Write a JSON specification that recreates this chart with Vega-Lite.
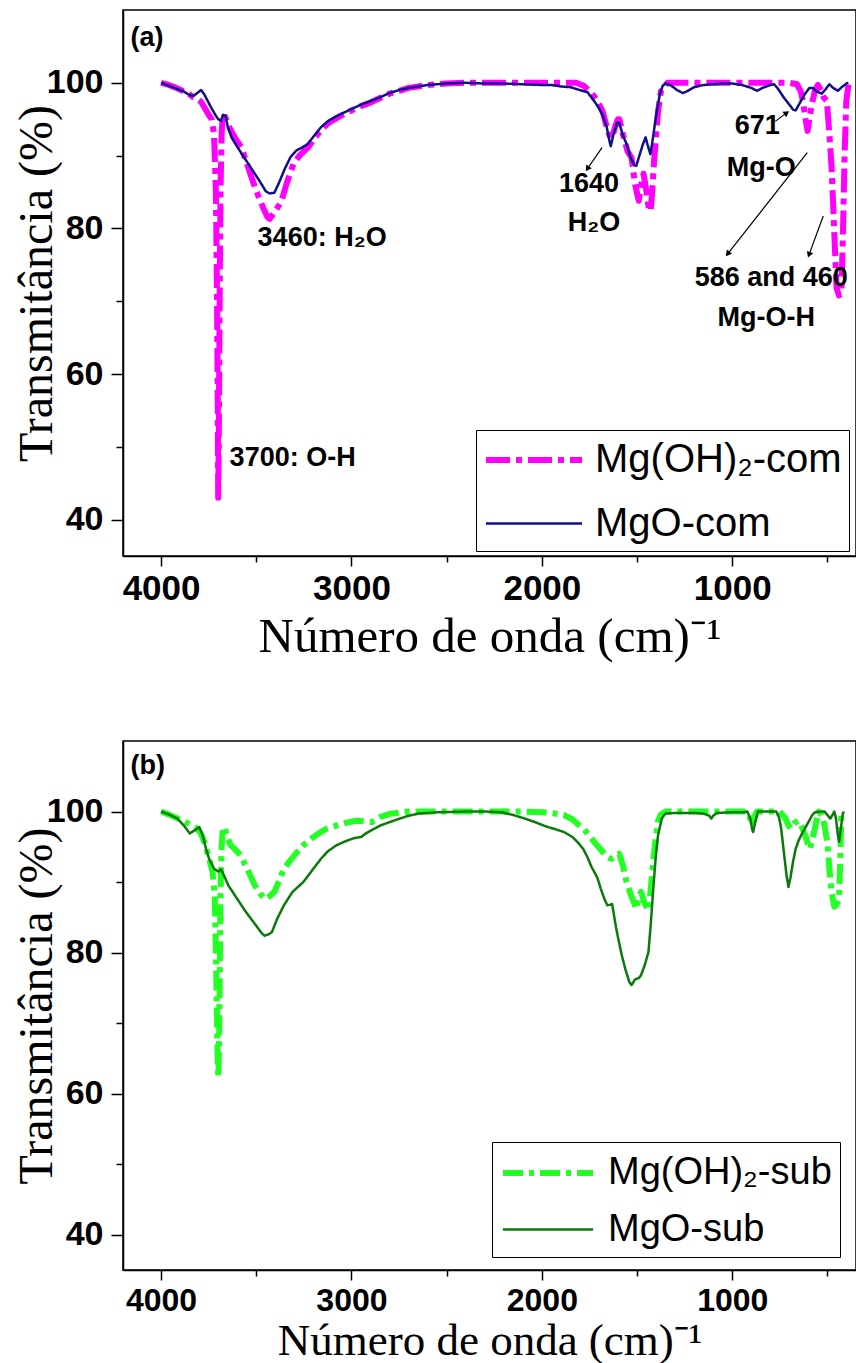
{
  "$schema": "https://vega.github.io/schema/vega-lite/v6.json",
  "autosize": {"type": "pad"},
  "padding": {"left": 12, "top": 9, "right": 1, "bottom": 0},
  "spacing": 78,
  "background": "#ffffff",
  "config": {
    "view": {"stroke": "#000000", "strokeWidth": 1.5},
    "axis": {"domainColor": "#000000", "domainWidth": 1.5, "tickColor": "#000000", "tickWidth": 1.5, "grid": false, "labelFont": "Liberation Sans", "labelFontWeight": "bold", "labelColor": "#000000", "titleFont": "Liberation Serif", "titleFontWeight": "normal", "titleColor": "#000000", "labelOverlap": false, "labelFlush": false},
    "legend": {"orient": "none", "title": null, "strokeColor": "#000000", "fillColor": "#ffffff", "labelFont": "Liberation Sans", "labelColor": "#000000", "labelLimit": 500}
  },
  "datasets": {
    "specA": [
      {"s":"Mg(OH)₂-com","w":4000,"t":100},{"s":"Mg(OH)₂-com","w":3960,"t":99.7},{"s":"Mg(OH)₂-com","w":3920,"t":99.3},{"s":"Mg(OH)₂-com","w":3880,"t":98.8},{"s":"Mg(OH)₂-com","w":3850,"t":98.4},{"s":"Mg(OH)₂-com","w":3830,"t":98.0},{"s":"Mg(OH)₂-com","w":3810,"t":97.8},{"s":"Mg(OH)₂-com","w":3790,"t":97.4},{"s":"Mg(OH)₂-com","w":3770,"t":96.5},{"s":"Mg(OH)₂-com","w":3750,"t":95.6},{"s":"Mg(OH)₂-com","w":3735,"t":95.0},{"s":"Mg(OH)₂-com","w":3722,"t":93.0},{"s":"Mg(OH)₂-com","w":3712,"t":85},{"s":"Mg(OH)₂-com","w":3706,"t":70},{"s":"Mg(OH)₂-com","w":3702,"t":55},{"s":"Mg(OH)₂-com","w":3700,"t":43.0},{"s":"Mg(OH)₂-com","w":3697,"t":50},{"s":"Mg(OH)₂-com","w":3693,"t":68},{"s":"Mg(OH)₂-com","w":3688,"t":85},{"s":"Mg(OH)₂-com","w":3682,"t":93},{"s":"Mg(OH)₂-com","w":3676,"t":95.5},{"s":"Mg(OH)₂-com","w":3668,"t":95.6},{"s":"Mg(OH)₂-com","w":3655,"t":94.8},{"s":"Mg(OH)₂-com","w":3640,"t":93.8},{"s":"Mg(OH)₂-com","w":3620,"t":92.8},{"s":"Mg(OH)₂-com","w":3600,"t":92.0},{"s":"Mg(OH)₂-com","w":3580,"t":91.2},{"s":"Mg(OH)₂-com","w":3550,"t":89.0},{"s":"Mg(OH)₂-com","w":3520,"t":86.6},{"s":"Mg(OH)₂-com","w":3490,"t":84.5},{"s":"Mg(OH)₂-com","w":3460,"t":82.6},{"s":"Mg(OH)₂-com","w":3440,"t":81.5},{"s":"Mg(OH)₂-com","w":3430,"t":81.3},{"s":"Mg(OH)₂-com","w":3410,"t":82.0},{"s":"Mg(OH)₂-com","w":3390,"t":82.8},{"s":"Mg(OH)₂-com","w":3367,"t":83.8},{"s":"Mg(OH)₂-com","w":3340,"t":86.2},{"s":"Mg(OH)₂-com","w":3304,"t":88.9},{"s":"Mg(OH)₂-com","w":3270,"t":90.1},{"s":"Mg(OH)₂-com","w":3228,"t":91.1},{"s":"Mg(OH)₂-com","w":3200,"t":92.2},{"s":"Mg(OH)₂-com","w":3160,"t":93.5},{"s":"Mg(OH)₂-com","w":3120,"t":94.5},{"s":"Mg(OH)₂-com","w":3080,"t":95.1},{"s":"Mg(OH)₂-com","w":3040,"t":95.7},{"s":"Mg(OH)₂-com","w":3000,"t":96.2},{"s":"Mg(OH)₂-com","w":2950,"t":96.8},{"s":"Mg(OH)₂-com","w":2900,"t":97.3},{"s":"Mg(OH)₂-com","w":2850,"t":97.9},{"s":"Mg(OH)₂-com","w":2800,"t":98.5},{"s":"Mg(OH)₂-com","w":2750,"t":98.9},{"s":"Mg(OH)₂-com","w":2700,"t":99.3},{"s":"Mg(OH)₂-com","w":2650,"t":99.5},{"s":"Mg(OH)₂-com","w":2600,"t":99.7},{"s":"Mg(OH)₂-com","w":2500,"t":99.9},{"s":"Mg(OH)₂-com","w":2400,"t":100},{"s":"Mg(OH)₂-com","w":2200,"t":100},{"s":"Mg(OH)₂-com","w":2000,"t":100},{"s":"Mg(OH)₂-com","w":1900,"t":100},{"s":"Mg(OH)₂-com","w":1820,"t":100},{"s":"Mg(OH)₂-com","w":1780,"t":99.6},{"s":"Mg(OH)₂-com","w":1740,"t":98.6},{"s":"Mg(OH)₂-com","w":1707,"t":97.5},{"s":"Mg(OH)₂-com","w":1680,"t":96.0},{"s":"Mg(OH)₂-com","w":1660,"t":94.0},{"s":"Mg(OH)₂-com","w":1645,"t":92.8},{"s":"Mg(OH)₂-com","w":1631,"t":92.4},{"s":"Mg(OH)₂-com","w":1615,"t":94.0},{"s":"Mg(OH)₂-com","w":1600,"t":95.0},{"s":"Mg(OH)₂-com","w":1593,"t":95.0},{"s":"Mg(OH)₂-com","w":1575,"t":93.0},{"s":"Mg(OH)₂-com","w":1550,"t":90.6},{"s":"Mg(OH)₂-com","w":1529,"t":89.7},{"s":"Mg(OH)₂-com","w":1510,"t":86.0},{"s":"Mg(OH)₂-com","w":1491,"t":83.8},{"s":"Mg(OH)₂-com","w":1478,"t":86.0},{"s":"Mg(OH)₂-com","w":1466,"t":87.5},{"s":"Mg(OH)₂-com","w":1450,"t":85.0},{"s":"Mg(OH)₂-com","w":1440,"t":83.0},{"s":"Mg(OH)₂-com","w":1428,"t":82.4},{"s":"Mg(OH)₂-com","w":1418,"t":86.0},{"s":"Mg(OH)₂-com","w":1410,"t":89.5},{"s":"Mg(OH)₂-com","w":1402,"t":92.0},{"s":"Mg(OH)₂-com","w":1390,"t":96.0},{"s":"Mg(OH)₂-com","w":1375,"t":98.8},{"s":"Mg(OH)₂-com","w":1364,"t":99.3},{"s":"Mg(OH)₂-com","w":1340,"t":100},{"s":"Mg(OH)₂-com","w":1200,"t":100},{"s":"Mg(OH)₂-com","w":1000,"t":100},{"s":"Mg(OH)₂-com","w":800,"t":100},{"s":"Mg(OH)₂-com","w":700,"t":100},{"s":"Mg(OH)₂-com","w":660,"t":99.8},{"s":"Mg(OH)₂-com","w":640,"t":98.8},{"s":"Mg(OH)₂-com","w":629,"t":97.5},{"s":"Mg(OH)₂-com","w":615,"t":95.0},{"s":"Mg(OH)₂-com","w":604,"t":93.4},{"s":"Mg(OH)₂-com","w":592,"t":95.5},{"s":"Mg(OH)₂-com","w":578,"t":97.5},{"s":"Mg(OH)₂-com","w":565,"t":99.0},{"s":"Mg(OH)₂-com","w":550,"t":99.7},{"s":"Mg(OH)₂-com","w":535,"t":99.0},{"s":"Mg(OH)₂-com","w":520,"t":98.0},{"s":"Mg(OH)₂-com","w":503,"t":97.5},{"s":"Mg(OH)₂-com","w":490,"t":93.0},{"s":"Mg(OH)₂-com","w":478,"t":88.3},{"s":"Mg(OH)₂-com","w":465,"t":80.0},{"s":"Mg(OH)₂-com","w":452,"t":71.8},{"s":"Mg(OH)₂-com","w":440,"t":70.8},{"s":"Mg(OH)₂-com","w":427,"t":71.0},{"s":"Mg(OH)₂-com","w":418,"t":80.0},{"s":"Mg(OH)₂-com","w":410,"t":90.0},{"s":"Mg(OH)₂-com","w":401,"t":97.5},{"s":"Mg(OH)₂-com","w":388,"t":100},
      {"s":"MgO-com","w":4000,"t":100},{"s":"MgO-com","w":3960,"t":99.6},{"s":"MgO-com","w":3920,"t":99.2},{"s":"MgO-com","w":3880,"t":98.8},{"s":"MgO-com","w":3850,"t":98.3},{"s":"MgO-com","w":3830,"t":98.2},{"s":"MgO-com","w":3810,"t":98.6},{"s":"MgO-com","w":3790,"t":99.0},{"s":"MgO-com","w":3775,"t":98.5},{"s":"MgO-com","w":3755,"t":97.5},{"s":"MgO-com","w":3735,"t":96.5},{"s":"MgO-com","w":3715,"t":95.6},{"s":"MgO-com","w":3700,"t":95.0},{"s":"MgO-com","w":3685,"t":94.8},{"s":"MgO-com","w":3675,"t":95.6},{"s":"MgO-com","w":3662,"t":95.5},{"s":"MgO-com","w":3650,"t":94.0},{"s":"MgO-com","w":3630,"t":92.5},{"s":"MgO-com","w":3600,"t":91.2},{"s":"MgO-com","w":3560,"t":89.6},{"s":"MgO-com","w":3520,"t":88.0},{"s":"MgO-com","w":3480,"t":86.4},{"s":"MgO-com","w":3450,"t":85.1},{"s":"MgO-com","w":3430,"t":84.8},{"s":"MgO-com","w":3405,"t":84.9},{"s":"MgO-com","w":3380,"t":86.3},{"s":"MgO-com","w":3350,"t":88.2},{"s":"MgO-com","w":3320,"t":89.8},{"s":"MgO-com","w":3290,"t":90.7},{"s":"MgO-com","w":3260,"t":91.1},{"s":"MgO-com","w":3230,"t":91.6},{"s":"MgO-com","w":3200,"t":92.6},{"s":"MgO-com","w":3160,"t":93.9},{"s":"MgO-com","w":3120,"t":94.8},{"s":"MgO-com","w":3080,"t":95.4},{"s":"MgO-com","w":3040,"t":95.9},{"s":"MgO-com","w":3000,"t":96.4},{"s":"MgO-com","w":2950,"t":97.0},{"s":"MgO-com","w":2900,"t":97.5},{"s":"MgO-com","w":2850,"t":98.0},{"s":"MgO-com","w":2800,"t":98.6},{"s":"MgO-com","w":2750,"t":99.0},{"s":"MgO-com","w":2700,"t":99.3},{"s":"MgO-com","w":2650,"t":99.5},{"s":"MgO-com","w":2600,"t":99.7},{"s":"MgO-com","w":2500,"t":99.9},{"s":"MgO-com","w":2400,"t":100},{"s":"MgO-com","w":2300,"t":99.9},{"s":"MgO-com","w":2200,"t":99.9},{"s":"MgO-com","w":2100,"t":99.8},{"s":"MgO-com","w":2000,"t":99.7},{"s":"MgO-com","w":1950,"t":99.7},{"s":"MgO-com","w":1900,"t":99.5},{"s":"MgO-com","w":1850,"t":99.4},{"s":"MgO-com","w":1800,"t":99.0},{"s":"MgO-com","w":1760,"t":98.7},{"s":"MgO-com","w":1740,"t":98.0},{"s":"MgO-com","w":1720,"t":97.3},{"s":"MgO-com","w":1700,"t":96.5},{"s":"MgO-com","w":1680,"t":95.5},{"s":"MgO-com","w":1660,"t":94.0},{"s":"MgO-com","w":1645,"t":92.0},{"s":"MgO-com","w":1638,"t":91.3},{"s":"MgO-com","w":1625,"t":92.8},{"s":"MgO-com","w":1605,"t":94.5},{"s":"MgO-com","w":1593,"t":94.5},{"s":"MgO-com","w":1575,"t":92.8},{"s":"MgO-com","w":1555,"t":91.6},{"s":"MgO-com","w":1535,"t":89.8},{"s":"MgO-com","w":1515,"t":88.7},{"s":"MgO-com","w":1504,"t":88.6},{"s":"MgO-com","w":1490,"t":89.8},{"s":"MgO-com","w":1470,"t":91.5},{"s":"MgO-com","w":1455,"t":92.5},{"s":"MgO-com","w":1445,"t":91.5},{"s":"MgO-com","w":1430,"t":90.2},{"s":"MgO-com","w":1420,"t":91.8},{"s":"MgO-com","w":1400,"t":95.5},{"s":"MgO-com","w":1380,"t":98.5},{"s":"MgO-com","w":1365,"t":99.6},{"s":"MgO-com","w":1350,"t":99.9},{"s":"MgO-com","w":1320,"t":99.6},{"s":"MgO-com","w":1290,"t":99.0},{"s":"MgO-com","w":1260,"t":98.6},{"s":"MgO-com","w":1240,"t":98.8},{"s":"MgO-com","w":1200,"t":99.4},{"s":"MgO-com","w":1150,"t":99.7},{"s":"MgO-com","w":1100,"t":99.8},{"s":"MgO-com","w":1050,"t":99.9},{"s":"MgO-com","w":1000,"t":99.9},{"s":"MgO-com","w":950,"t":99.7},{"s":"MgO-com","w":900,"t":99.3},{"s":"MgO-com","w":870,"t":98.9},{"s":"MgO-com","w":840,"t":99.3},{"s":"MgO-com","w":800,"t":99.7},{"s":"MgO-com","w":780,"t":99.8},{"s":"MgO-com","w":760,"t":99.2},{"s":"MgO-com","w":730,"t":98.0},{"s":"MgO-com","w":700,"t":97.0},{"s":"MgO-com","w":680,"t":96.3},{"s":"MgO-com","w":667,"t":96.2},{"s":"MgO-com","w":650,"t":97.0},{"s":"MgO-com","w":620,"t":98.4},{"s":"MgO-com","w":595,"t":99.3},{"s":"MgO-com","w":578,"t":99.3},{"s":"MgO-com","w":555,"t":98.8},{"s":"MgO-com","w":530,"t":98.5},{"s":"MgO-com","w":510,"t":99.1},{"s":"MgO-com","w":490,"t":99.8},{"s":"MgO-com","w":470,"t":99.3},{"s":"MgO-com","w":445,"t":98.9},{"s":"MgO-com","w":425,"t":99.4},{"s":"MgO-com","w":400,"t":99.9},{"s":"MgO-com","w":390,"t":100}
    ],
    "specB": [
      {"s":"Mg(OH)₂-sub","w":4000,"t":100},{"s":"Mg(OH)₂-sub","w":3960,"t":99.6},{"s":"Mg(OH)₂-sub","w":3920,"t":99.1},{"s":"Mg(OH)₂-sub","w":3880,"t":98.6},{"s":"Mg(OH)₂-sub","w":3850,"t":98.2},{"s":"Mg(OH)₂-sub","w":3810,"t":97.6},{"s":"Mg(OH)₂-sub","w":3790,"t":96.8},{"s":"Mg(OH)₂-sub","w":3770,"t":95.5},{"s":"Mg(OH)₂-sub","w":3748,"t":93.3},{"s":"Mg(OH)₂-sub","w":3730,"t":91.5},{"s":"Mg(OH)₂-sub","w":3718,"t":88},{"s":"Mg(OH)₂-sub","w":3712,"t":80},{"s":"Mg(OH)₂-sub","w":3706,"t":70},{"s":"Mg(OH)₂-sub","w":3702,"t":64},{"s":"Mg(OH)₂-sub","w":3699,"t":62.4},{"s":"Mg(OH)₂-sub","w":3696,"t":66},{"s":"Mg(OH)₂-sub","w":3692,"t":76},{"s":"Mg(OH)₂-sub","w":3688,"t":88},{"s":"Mg(OH)₂-sub","w":3682,"t":95},{"s":"Mg(OH)₂-sub","w":3675,"t":97.8},{"s":"Mg(OH)₂-sub","w":3665,"t":97.6},{"s":"Mg(OH)₂-sub","w":3650,"t":96.2},{"s":"Mg(OH)₂-sub","w":3634,"t":95.2},{"s":"Mg(OH)₂-sub","w":3610,"t":94.6},{"s":"Mg(OH)₂-sub","w":3583,"t":93.8},{"s":"Mg(OH)₂-sub","w":3550,"t":92.0},{"s":"Mg(OH)₂-sub","w":3507,"t":89.5},{"s":"Mg(OH)₂-sub","w":3480,"t":88.4},{"s":"Mg(OH)₂-sub","w":3456,"t":87.6},{"s":"Mg(OH)₂-sub","w":3430,"t":88.0},{"s":"Mg(OH)₂-sub","w":3405,"t":88.6},{"s":"Mg(OH)₂-sub","w":3380,"t":90.2},{"s":"Mg(OH)₂-sub","w":3355,"t":91.9},{"s":"Mg(OH)₂-sub","w":3300,"t":93.8},{"s":"Mg(OH)₂-sub","w":3253,"t":95.2},{"s":"Mg(OH)₂-sub","w":3200,"t":96.4},{"s":"Mg(OH)₂-sub","w":3160,"t":97.1},{"s":"Mg(OH)₂-sub","w":3127,"t":97.6},{"s":"Mg(OH)₂-sub","w":3080,"t":98.0},{"s":"Mg(OH)₂-sub","w":3030,"t":98.4},{"s":"Mg(OH)₂-sub","w":2975,"t":98.7},{"s":"Mg(OH)₂-sub","w":2930,"t":98.6},{"s":"Mg(OH)₂-sub","w":2893,"t":98.5},{"s":"Mg(OH)₂-sub","w":2850,"t":99.2},{"s":"Mg(OH)₂-sub","w":2795,"t":99.7},{"s":"Mg(OH)₂-sub","w":2700,"t":100},{"s":"Mg(OH)₂-sub","w":2500,"t":100},{"s":"Mg(OH)₂-sub","w":2300,"t":100},{"s":"Mg(OH)₂-sub","w":2100,"t":100},{"s":"Mg(OH)₂-sub","w":2000,"t":99.9},{"s":"Mg(OH)₂-sub","w":1950,"t":99.8},{"s":"Mg(OH)₂-sub","w":1884,"t":99.5},{"s":"Mg(OH)₂-sub","w":1840,"t":98.9},{"s":"Mg(OH)₂-sub","w":1810,"t":98.2},{"s":"Mg(OH)₂-sub","w":1783,"t":97.6},{"s":"Mg(OH)₂-sub","w":1750,"t":96.6},{"s":"Mg(OH)₂-sub","w":1720,"t":95.5},{"s":"Mg(OH)₂-sub","w":1700,"t":94.9},{"s":"Mg(OH)₂-sub","w":1681,"t":94.3},{"s":"Mg(OH)₂-sub","w":1660,"t":93.6},{"s":"Mg(OH)₂-sub","w":1645,"t":93.4},{"s":"Mg(OH)₂-sub","w":1631,"t":93.3},{"s":"Mg(OH)₂-sub","w":1610,"t":93.8},{"s":"Mg(OH)₂-sub","w":1593,"t":94.0},{"s":"Mg(OH)₂-sub","w":1575,"t":92.4},{"s":"Mg(OH)₂-sub","w":1555,"t":90.0},{"s":"Mg(OH)₂-sub","w":1530,"t":88.0},{"s":"Mg(OH)₂-sub","w":1515,"t":87.0},{"s":"Mg(OH)₂-sub","w":1504,"t":86.2},{"s":"Mg(OH)₂-sub","w":1490,"t":87.8},{"s":"Mg(OH)₂-sub","w":1479,"t":88.6},{"s":"Mg(OH)₂-sub","w":1460,"t":87.0},{"s":"Mg(OH)₂-sub","w":1440,"t":86.0},{"s":"Mg(OH)₂-sub","w":1428,"t":89.0},{"s":"Mg(OH)₂-sub","w":1415,"t":93.0},{"s":"Mg(OH)₂-sub","w":1402,"t":96.2},{"s":"Mg(OH)₂-sub","w":1390,"t":98.6},{"s":"Mg(OH)₂-sub","w":1377,"t":99.5},{"s":"Mg(OH)₂-sub","w":1350,"t":100},{"s":"Mg(OH)₂-sub","w":1200,"t":100},{"s":"Mg(OH)₂-sub","w":1000,"t":100},{"s":"Mg(OH)₂-sub","w":930,"t":100},{"s":"Mg(OH)₂-sub","w":910,"t":99.4},{"s":"Mg(OH)₂-sub","w":896,"t":98.0},{"s":"Mg(OH)₂-sub","w":885,"t":99.2},{"s":"Mg(OH)₂-sub","w":870,"t":100},{"s":"Mg(OH)₂-sub","w":800,"t":100},{"s":"Mg(OH)₂-sub","w":750,"t":100},{"s":"Mg(OH)₂-sub","w":720,"t":99.0},{"s":"Mg(OH)₂-sub","w":705,"t":98.0},{"s":"Mg(OH)₂-sub","w":693,"t":97.6},{"s":"Mg(OH)₂-sub","w":675,"t":98.3},{"s":"Mg(OH)₂-sub","w":655,"t":98.7},{"s":"Mg(OH)₂-sub","w":640,"t":98.2},{"s":"Mg(OH)₂-sub","w":628,"t":97.4},{"s":"Mg(OH)₂-sub","w":616,"t":96.6},{"s":"Mg(OH)₂-sub","w":604,"t":95.5},{"s":"Mg(OH)₂-sub","w":592,"t":94.7},{"s":"Mg(OH)₂-sub","w":580,"t":96.0},{"s":"Mg(OH)₂-sub","w":566,"t":97.6},{"s":"Mg(OH)₂-sub","w":555,"t":99.0},{"s":"Mg(OH)₂-sub","w":545,"t":100},{"s":"Mg(OH)₂-sub","w":530,"t":99.5},{"s":"Mg(OH)₂-sub","w":515,"t":98.0},{"s":"Mg(OH)₂-sub","w":500,"t":95.5},{"s":"Mg(OH)₂-sub","w":490,"t":91.9},{"s":"Mg(OH)₂-sub","w":478,"t":88.5},{"s":"Mg(OH)₂-sub","w":464,"t":86.5},{"s":"Mg(OH)₂-sub","w":452,"t":86.8},{"s":"Mg(OH)₂-sub","w":439,"t":87.6},{"s":"Mg(OH)₂-sub","w":432,"t":94.0},{"s":"Mg(OH)₂-sub","w":427,"t":100},
      {"s":"MgO-sub","w":4000,"t":100},{"s":"MgO-sub","w":3960,"t":99.6},{"s":"MgO-sub","w":3913,"t":99.0},{"s":"MgO-sub","w":3880,"t":98.0},{"s":"MgO-sub","w":3849,"t":96.9},{"s":"MgO-sub","w":3820,"t":97.4},{"s":"MgO-sub","w":3799,"t":97.8},{"s":"MgO-sub","w":3780,"t":96.5},{"s":"MgO-sub","w":3765,"t":94.8},{"s":"MgO-sub","w":3748,"t":93.3},{"s":"MgO-sub","w":3722,"t":91.9},{"s":"MgO-sub","w":3700,"t":91.5},{"s":"MgO-sub","w":3685,"t":91.8},{"s":"MgO-sub","w":3671,"t":91.0},{"s":"MgO-sub","w":3646,"t":89.5},{"s":"MgO-sub","w":3600,"t":87.6},{"s":"MgO-sub","w":3550,"t":85.6},{"s":"MgO-sub","w":3500,"t":83.8},{"s":"MgO-sub","w":3470,"t":82.7},{"s":"MgO-sub","w":3456,"t":82.4},{"s":"MgO-sub","w":3435,"t":82.6},{"s":"MgO-sub","w":3418,"t":82.9},{"s":"MgO-sub","w":3390,"t":84.8},{"s":"MgO-sub","w":3355,"t":86.7},{"s":"MgO-sub","w":3310,"t":88.6},{"s":"MgO-sub","w":3253,"t":90.0},{"s":"MgO-sub","w":3200,"t":91.9},{"s":"MgO-sub","w":3160,"t":93.3},{"s":"MgO-sub","w":3127,"t":94.3},{"s":"MgO-sub","w":3080,"t":95.2},{"s":"MgO-sub","w":3030,"t":95.8},{"s":"MgO-sub","w":2990,"t":96.2},{"s":"MgO-sub","w":2949,"t":96.4},{"s":"MgO-sub","w":2930,"t":96.8},{"s":"MgO-sub","w":2898,"t":97.3},{"s":"MgO-sub","w":2850,"t":98.0},{"s":"MgO-sub","w":2800,"t":98.5},{"s":"MgO-sub","w":2746,"t":99.0},{"s":"MgO-sub","w":2700,"t":99.4},{"s":"MgO-sub","w":2650,"t":99.7},{"s":"MgO-sub","w":2600,"t":99.8},{"s":"MgO-sub","w":2543,"t":99.9},{"s":"MgO-sub","w":2400,"t":100},{"s":"MgO-sub","w":2300,"t":100},{"s":"MgO-sub","w":2214,"t":99.9},{"s":"MgO-sub","w":2150,"t":99.5},{"s":"MgO-sub","w":2100,"t":99.1},{"s":"MgO-sub","w":2036,"t":98.5},{"s":"MgO-sub","w":1980,"t":97.9},{"s":"MgO-sub","w":1930,"t":97.5},{"s":"MgO-sub","w":1884,"t":97.1},{"s":"MgO-sub","w":1840,"t":96.4},{"s":"MgO-sub","w":1810,"t":95.6},{"s":"MgO-sub","w":1783,"t":94.7},{"s":"MgO-sub","w":1760,"t":93.5},{"s":"MgO-sub","w":1740,"t":92.2},{"s":"MgO-sub","w":1720,"t":91.2},{"s":"MgO-sub","w":1707,"t":90.5},{"s":"MgO-sub","w":1690,"t":89.0},{"s":"MgO-sub","w":1670,"t":87.5},{"s":"MgO-sub","w":1656,"t":86.7},{"s":"MgO-sub","w":1640,"t":86.8},{"s":"MgO-sub","w":1631,"t":86.9},{"s":"MgO-sub","w":1610,"t":83.5},{"s":"MgO-sub","w":1595,"t":81.5},{"s":"MgO-sub","w":1580,"t":79.6},{"s":"MgO-sub","w":1560,"t":77.5},{"s":"MgO-sub","w":1540,"t":75.8},{"s":"MgO-sub","w":1529,"t":75.4},{"s":"MgO-sub","w":1510,"t":76.2},{"s":"MgO-sub","w":1490,"t":76.4},{"s":"MgO-sub","w":1479,"t":76.8},{"s":"MgO-sub","w":1460,"t":78.2},{"s":"MgO-sub","w":1440,"t":80.1},{"s":"MgO-sub","w":1428,"t":84.0},{"s":"MgO-sub","w":1415,"t":89.0},{"s":"MgO-sub","w":1402,"t":93.5},{"s":"MgO-sub","w":1390,"t":96.6},{"s":"MgO-sub","w":1370,"t":99.0},{"s":"MgO-sub","w":1352,"t":99.7},{"s":"MgO-sub","w":1300,"t":99.8},{"s":"MgO-sub","w":1200,"t":99.8},{"s":"MgO-sub","w":1150,"t":99.7},{"s":"MgO-sub","w":1120,"t":99.4},{"s":"MgO-sub","w":1110,"t":99.0},{"s":"MgO-sub","w":1100,"t":99.4},{"s":"MgO-sub","w":1080,"t":99.8},{"s":"MgO-sub","w":1000,"t":99.9},{"s":"MgO-sub","w":940,"t":99.9},{"s":"MgO-sub","w":921,"t":100},{"s":"MgO-sub","w":905,"t":99.0},{"s":"MgO-sub","w":895,"t":97.4},{"s":"MgO-sub","w":890,"t":97.1},{"s":"MgO-sub","w":880,"t":98.4},{"s":"MgO-sub","w":865,"t":100},{"s":"MgO-sub","w":800,"t":100},{"s":"MgO-sub","w":769,"t":100},{"s":"MgO-sub","w":755,"t":99.2},{"s":"MgO-sub","w":744,"t":97.8},{"s":"MgO-sub","w":730,"t":94.5},{"s":"MgO-sub","w":715,"t":91.0},{"s":"MgO-sub","w":705,"t":89.3},{"s":"MgO-sub","w":695,"t":90.5},{"s":"MgO-sub","w":680,"t":93.0},{"s":"MgO-sub","w":667,"t":94.7},{"s":"MgO-sub","w":650,"t":96.0},{"s":"MgO-sub","w":629,"t":97.1},{"s":"MgO-sub","w":600,"t":98.5},{"s":"MgO-sub","w":580,"t":99.5},{"s":"MgO-sub","w":566,"t":99.9},{"s":"MgO-sub","w":530,"t":100},{"s":"MgO-sub","w":515,"t":100},{"s":"MgO-sub","w":500,"t":99.5},{"s":"MgO-sub","w":485,"t":99.0},{"s":"MgO-sub","w":472,"t":99.6},{"s":"MgO-sub","w":464,"t":100},{"s":"MgO-sub","w":455,"t":99.0},{"s":"MgO-sub","w":447,"t":97.0},{"s":"MgO-sub","w":439,"t":95.7},{"s":"MgO-sub","w":430,"t":97.5},{"s":"MgO-sub","w":420,"t":99.6},{"s":"MgO-sub","w":414,"t":100}
    ],
    "labA_left": [
      {"label":"(a)","w":4160,"t":106.2},
      {"label":"3460: H₂O","w":3493,"t":78.7},
      {"label":"3700: O-H","w":3640,"t":48.5}
    ],
    "labA_center": [
      {"label":"1640","w":1752,"t":86.1},
      {"label":"H₂O","w":1726,"t":80.8},
      {"label":"671","w":869,"t":94.0},
      {"label":"Mg-O","w":848,"t":88.3},
      {"label":"586 and 460","w":795,"t":73.2},
      {"label":"Mg-O-H","w":821,"t":67.7}
    ],
    "arrA": [
      {"w":1684,"t":91.1,"w2":1758,"t2":88.3,"dir":215},
      {"w":774,"t":94.7,"w2":718,"t2":95.8,"dir":56},
      {"w":606,"t":90.4,"w2":1021,"t2":76.6,"dir":218},
      {"w":522,"t":81.7,"w2":595,"t2":76.5,"dir":200}
    ],
    "labB_left": [
      {"label":"(b)","w":4160,"t":106.5}
    ]
  },
  "resolve": {"scale": {"color": "independent", "strokeDash": "independent", "strokeWidth": "independent"}, "legend": {"color": "independent", "strokeDash": "independent", "strokeWidth": "independent"}},
  "vconcat": [
    {
      "width": 733,
      "height": 546,
      "layer": [
        {
          "data": {"name": "specA"},
          "mark": {"type": "line", "clip": true, "strokeJoin": "round"},
          "encoding": {
            "x": {"field": "w", "type": "quantitative", "title": "Número de onda (cm)⁻¹",
              "scale": {"domain": [350, 4200], "reverse": true, "nice": false, "zero": false},
              "axis": {"values": [4000, 3500, 3000, 2500, 2000, 1500, 1000, 500], "format": "d", "labelExpr": "datum.value % 1000 === 0 ? datum.label : ''", "tickSize": {"condition": {"test": "datum.value % 1000 === 0", "value": 10}, "value": 6}, "labelFontSize": 35, "labelPadding": 5, "titleFontSize": 49, "titlePadding": 6}},
            "y": {"field": "t", "type": "quantitative", "title": "Transmitância (%)",
              "scale": {"domain": [35, 110], "nice": false, "zero": false},
              "axis": {"values": [40, 50, 60, 70, 80, 90, 100], "labelExpr": "datum.value % 20 === 0 ? datum.label : ''", "tickSize": {"condition": {"test": "datum.value % 20 === 0", "value": 12}, "value": 7}, "labelFontSize": 34, "labelPadding": 8, "titleFontSize": 48, "titleX": -86, "titleBaseline": "middle"}},
            "color": {"field": "s", "type": "nominal", "scale": {"domain": ["Mg(OH)₂-com", "MgO-com"], "range": ["#ff00ff", "#10108a"]},
              "legend": {"legendX": 353, "legendY": 420, "labelFontSize": 40, "symbolType": "M-1,0L3.8,0", "symbolSize": 1600, "labelOffset": 66, "padding": 7, "rowPadding": 22}},
            "strokeDash": {"field": "s", "type": "nominal", "scale": {"domain": ["Mg(OH)₂-com", "MgO-com"], "range": [[24, 6, 6, 6], [1, 0]]},
              "legend": {"legendX": 353, "legendY": 420, "labelFontSize": 40, "symbolType": "M-1,0L3.8,0", "symbolSize": 1600, "labelOffset": 66, "padding": 7, "rowPadding": 22}},
            "strokeWidth": {"field": "s", "type": "nominal", "scale": {"domain": ["Mg(OH)₂-com", "MgO-com"], "range": [6, 2.5]},
              "legend": {"legendX": 353, "legendY": 420, "labelFontSize": 40, "symbolType": "M-1,0L3.8,0", "symbolSize": 1600, "labelOffset": 66, "padding": 7, "rowPadding": 22}}
          }
        },
        {
          "data": {"name": "arrA"},
          "mark": {"type": "rule", "color": "#000000", "strokeWidth": 1.2},
          "encoding": {"x": {"field": "w", "type": "quantitative"}, "y": {"field": "t", "type": "quantitative"}, "x2": {"field": "w2"}, "y2": {"field": "t2"}}
        },
        {
          "data": {"name": "arrA"},
          "mark": {"type": "point", "shape": "triangle", "filled": true, "color": "#000000", "size": 45, "opacity": 1},
          "encoding": {"x": {"field": "w2", "type": "quantitative"}, "y": {"field": "t2", "type": "quantitative"}, "angle": {"field": "dir", "type": "quantitative", "scale": null}}
        },
        {
          "data": {"name": "labA_left"},
          "mark": {"type": "text", "font": "Liberation Sans", "fontWeight": "bold", "fontSize": 27, "align": "left", "baseline": "middle", "color": "#000000"},
          "encoding": {"x": {"field": "w", "type": "quantitative"}, "y": {"field": "t", "type": "quantitative"}, "text": {"field": "label"}}
        },
        {
          "data": {"name": "labA_center"},
          "mark": {"type": "text", "font": "Liberation Sans", "fontWeight": "bold", "fontSize": 27, "align": "center", "baseline": "middle", "color": "#000000"},
          "encoding": {"x": {"field": "w", "type": "quantitative"}, "y": {"field": "t", "type": "quantitative"}, "text": {"field": "label"}}
        }
      ]
    },
    {
      "width": 733,
      "height": 529,
      "layer": [
        {
          "data": {"name": "specB"},
          "mark": {"type": "line", "clip": true, "strokeJoin": "round"},
          "encoding": {
            "x": {"field": "w", "type": "quantitative", "title": "Número de onda (cm)⁻¹",
              "scale": {"domain": [350, 4200], "reverse": true, "nice": false, "zero": false},
              "axis": {"values": [4000, 3500, 3000, 2500, 2000, 1500, 1000, 500], "format": "d", "labelExpr": "datum.value % 1000 === 0 ? datum.label : ''", "tickSize": {"condition": {"test": "datum.value % 1000 === 0", "value": 10}, "value": 6}, "labelFontSize": 32, "labelPadding": 5, "titleFontSize": 45, "titlePadding": 2}},
            "y": {"field": "t", "type": "quantitative", "title": "Transmitância (%)",
              "scale": {"domain": [35, 110], "nice": false, "zero": false},
              "axis": {"values": [40, 50, 60, 70, 80, 90, 100], "labelExpr": "datum.value % 20 === 0 ? datum.label : ''", "tickSize": {"condition": {"test": "datum.value % 20 === 0", "value": 12}, "value": 7}, "labelFontSize": 34, "labelPadding": 8, "titleFontSize": 48, "titleX": -86, "titleBaseline": "middle"}},
            "color": {"field": "s", "type": "nominal", "scale": {"domain": ["Mg(OH)₂-sub", "MgO-sub"], "range": ["#22ff22", "#0a7a0a"]},
              "legend": {"legendX": 369, "legendY": 401, "labelFontSize": 38, "symbolType": "M-1,0L3.5,0", "symbolSize": 1600, "labelOffset": 62, "padding": 8, "rowPadding": 16}},
            "strokeDash": {"field": "s", "type": "nominal", "scale": {"domain": ["Mg(OH)₂-sub", "MgO-sub"], "range": [[20, 6, 5, 6], [1, 0]]},
              "legend": {"legendX": 369, "legendY": 401, "labelFontSize": 38, "symbolType": "M-1,0L3.5,0", "symbolSize": 1600, "labelOffset": 62, "padding": 8, "rowPadding": 16}},
            "strokeWidth": {"field": "s", "type": "nominal", "scale": {"domain": ["Mg(OH)₂-sub", "MgO-sub"], "range": [6, 2.5]},
              "legend": {"legendX": 369, "legendY": 401, "labelFontSize": 38, "symbolType": "M-1,0L3.5,0", "symbolSize": 1600, "labelOffset": 62, "padding": 8, "rowPadding": 16}}
          }
        },
        {
          "data": {"name": "labB_left"},
          "mark": {"type": "text", "font": "Liberation Sans", "fontWeight": "bold", "fontSize": 27, "align": "left", "baseline": "middle", "color": "#000000"},
          "encoding": {"x": {"field": "w", "type": "quantitative"}, "y": {"field": "t", "type": "quantitative"}, "text": {"field": "label"}}
        }
      ]
    }
  ]
}
